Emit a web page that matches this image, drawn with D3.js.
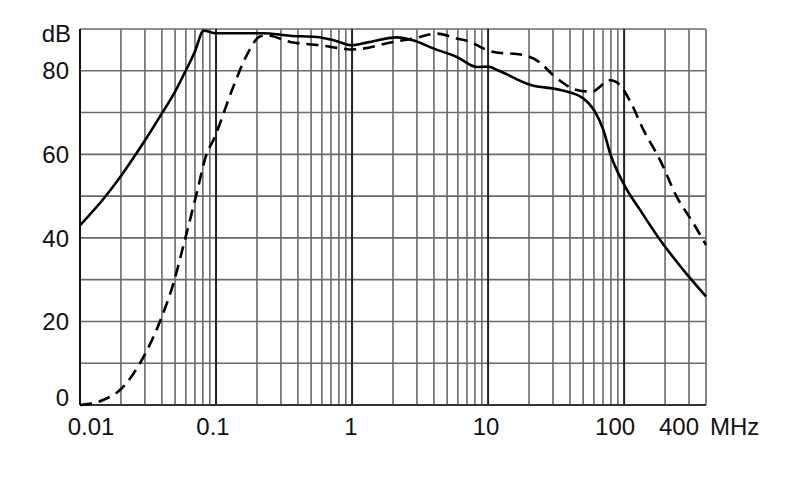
<!DOCTYPE html>
<html>
<head>
<meta charset="utf-8">
<script src="https://cdn.jsdelivr.net/npm/d3@7"></script>
<style>
  html, body { margin: 0; padding: 0; background: #fff; }
  svg { display: block; }
  text { font-family: "Liberation Sans", Arial, sans-serif; fill: #111; }
</style>
</head>
<body>
<svg id="chart" width="790" height="499"></svg>
<script>
// ---- data ----
const solidFreq = [0.01, 0.015, 0.02, 0.025, 0.03, 0.04, 0.05, 0.059, 0.07, 0.081, 0.1, 0.22, 0.35, 0.55, 0.75, 1.0, 1.3, 2.14, 2.8, 4, 5.9, 8.3, 10, 12, 20.6, 34, 50, 61, 70.5, 79, 99, 131, 184, 273, 400];
const solidDb   = [43, 49.5, 54.8, 59.4, 63.3, 69.8, 75, 79.6, 84.6, 89.6, 89.0, 89.0, 88.4, 88.1, 87.2, 86.1, 86.8, 88, 87.3, 85.3, 83.3, 80.9, 81, 80, 76.6, 75.4, 73.4, 70.2, 65.8, 60.2, 53, 46.7, 39.5, 32.3, 26];
const dashFreq  = [0.01, 0.0148, 0.0203, 0.0276, 0.0387, 0.0485, 0.059, 0.072, 0.0855, 0.0955, 0.134, 0.168, 0.21, 0.236, 0.35, 0.58, 0.86, 1.0, 1.2, 2, 2.8, 4.2, 5.9, 7.4, 9.3, 11, 18, 24, 30, 45, 58, 66.6, 76.7, 88, 93, 110, 139, 184, 244, 323, 400];
const dashDb    = [0, 1.2, 4, 10, 20, 29, 39.5, 50.6, 60.2, 63.4, 76.2, 83.7, 88.2, 88.5, 86.9, 86.1, 85.3, 85.1, 85.3, 86.9, 87.7, 88.9, 87.7, 86.9, 85.3, 84.5, 83.8, 82, 79, 75.4, 75, 76.2, 77.8, 77.3, 76.6, 72.9, 65.8, 58.6, 49.8, 43.5, 38.3];
const xTickValues = [0.01, 0.1, 1, 10, 100, 400];
const xTickLabels = ["0.01", "0.1", "1", "10", "100", "400"];
const yTickValues = [0, 20, 40, 60, 80];
const yGridValues = [0, 10, 20, 30, 40, 50, 60, 70, 80, 90];
const xUnit = "MHz";
const yUnit = "dB";

// ---- scales ----
const svg = d3.select("#chart");
const x = d3.scaleLog().domain([0.01, 400]).range([80, 706]);
const y = d3.scaleLinear().domain([0, 90]).range([405, 29]);

// vertical grid values
const vGrid = [];
for (let d = -2; d <= 1; d++) {
  for (let k = 1; k <= 9; k++) vGrid.push({v: k * Math.pow(10, d), major: k === 1});
}
vGrid.push({v: 100, major: true}, {v: 200, major: false}, {v: 300, major: false}, {v: 400, major: false});

const grid = svg.append("g");
grid.selectAll("line.h").data(yGridValues).enter().append("line")
  .attr("x1", x(0.01)).attr("x2", x(400))
  .attr("y1", d => y(d)).attr("y2", d => y(d))
  .attr("stroke", "#6a6a6a").attr("stroke-width", 1.6);
grid.selectAll("line.v").data(vGrid).enter().append("line")
  .attr("x1", d => x(d.v)).attr("x2", d => x(d.v))
  .attr("y1", y(0)).attr("y2", y(90))
  .attr("stroke", d => d.major ? "#222" : "#6a6a6a")
  .attr("stroke-width", d => d.major ? 2 : 1.6);

// axes lines
svg.append("line").attr("x1", x(0.01)).attr("x2", x(0.01)).attr("y1", y(0)).attr("y2", y(90))
  .attr("stroke", "#111").attr("stroke-width", 2);
svg.append("line").attr("x1", x(0.01)).attr("x2", x(400)).attr("y1", y(0)).attr("y2", y(0))
  .attr("stroke", "#333").attr("stroke-width", 2);

// curves
const line = d3.line().x(d => x(d[0])).y(d => y(d[1])).curve(d3.curveMonotoneX);
svg.append("path").datum(solidFreq.map((f, i) => [f, solidDb[i]]))
  .attr("d", line).attr("fill", "none").attr("stroke", "#000").attr("stroke-width", 2.6)
  .attr("stroke-linejoin", "round");
svg.append("path").datum(dashFreq.map((f, i) => [f, dashDb[i]]))
  .attr("d", line).attr("fill", "none").attr("stroke", "#000").attr("stroke-width", 2.6)
  .attr("stroke-dasharray", "12,7");

// y labels
const fs = 24;
svg.selectAll("text.y").data(yTickValues).enter().append("text")
  .attr("x", 69).attr("y", d => y(d) + (d === 0 ? -8 : 0))
  .attr("dy", "0.36em").attr("text-anchor", "end").attr("font-size", fs)
  .text(d => d);
svg.append("text").attr("x", 71).attr("y", y(90) + 4).attr("dy", "0.36em")
  .attr("text-anchor", "end").attr("font-size", fs).text(yUnit);

// x labels
const xShift = {"0.01": 11, "0.1": -3, "1": -1, "10": -2, "100": -9, "400": -27};
svg.selectAll("text.x").data(xTickValues).enter().append("text")
  .attr("x", (d, i) => x(d) + xShift[xTickLabels[i]])
  .attr("y", 435).attr("text-anchor", "middle").attr("font-size", fs)
  .text((d, i) => xTickLabels[i]);
svg.append("text").attr("x", 710).attr("y", 435).attr("font-size", fs).text(xUnit);
</script>
</body>
</html>
